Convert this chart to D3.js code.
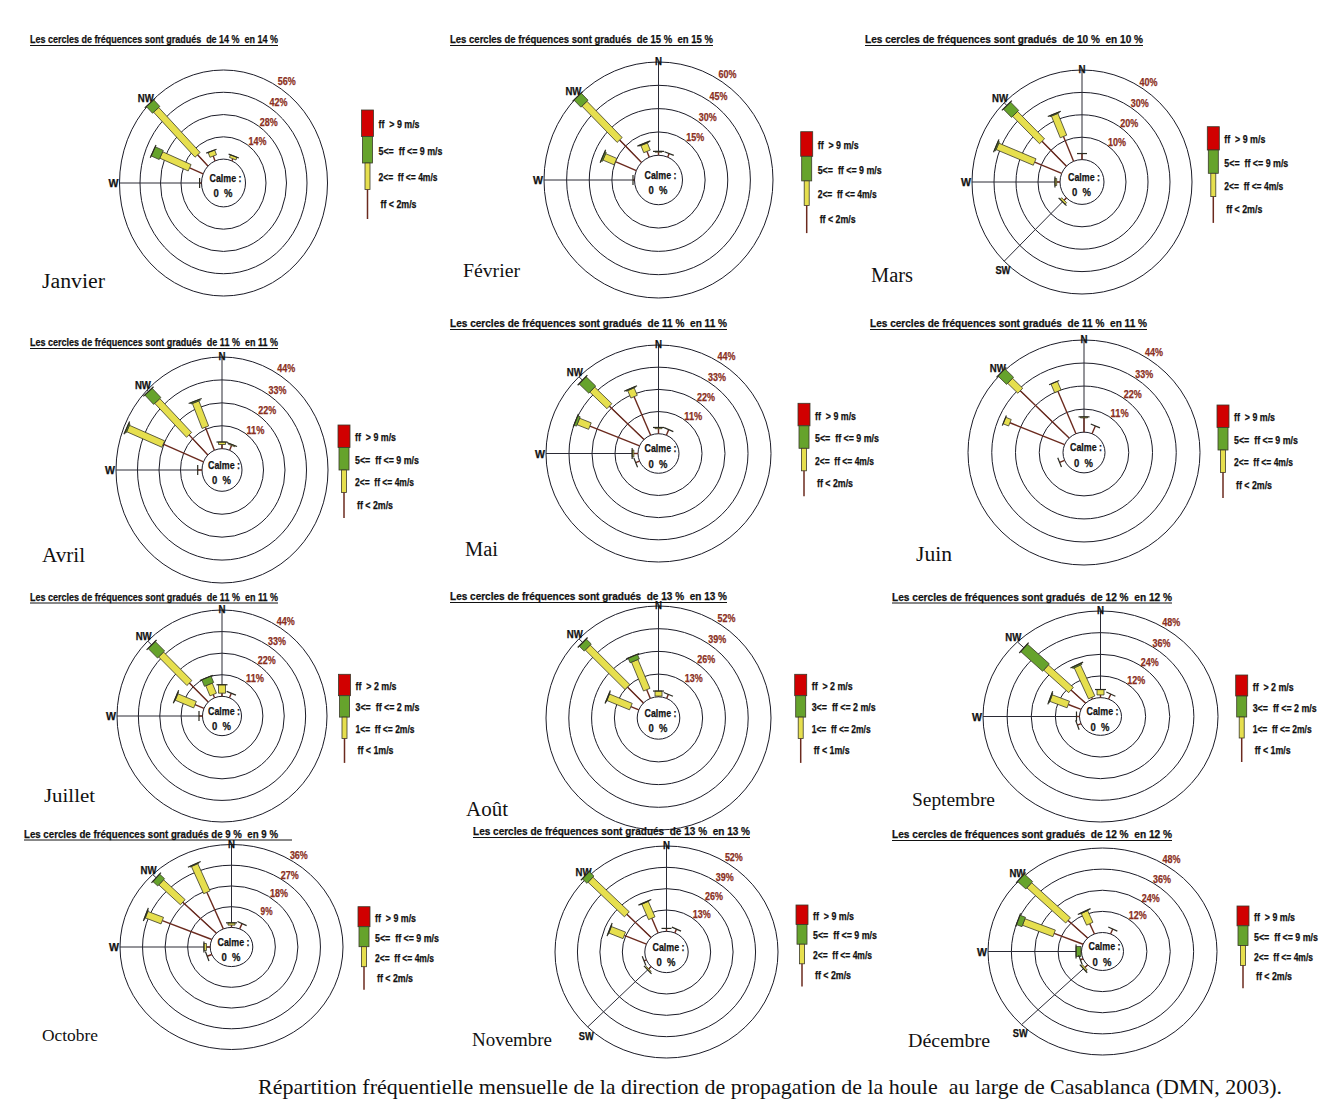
<!DOCTYPE html>
<html>
<head>
<meta charset="utf-8">
<script src="https://cdn.jsdelivr.net/npm/d3@7"></script>
<style>
  body { margin: 0; background: #fff; }
  svg { display: block; }
  text { white-space: pre; }
</style>
</head>
<body>
<svg id="chart" width="1343" height="1115"></svg>
<script>
// ---- data ----------------------------------------------------------------
const months = ["Janvier", "Février", "Mars", "Avril", "Mai", "Juin",
                "Juillet", "Août", "Septembre", "Octobre", "Novembre", "Décembre"];
const ringSteps = [14, 15, 10, 11, 11, 11, 11, 13, 12, 9, 13, 12];
const calmPct = [0, 0, 0, 0, 0, 0, 0, 0, 0, 0, 0, 0];
const directions = ["N", "NNE", "NE", "ENE", "E", "ESE", "SE", "SSE",
                    "S", "SSW", "SW", "WSW", "W", "WNW", "NW", "NNW"];
const legendMain = ["ff  > 9 m/s", "5<=  ff <= 9 m/s", "2<=  ff <= 4m/s", "ff < 2m/s"];
const legendSummer = ["ff  > 2 m/s", "3<=  ff <= 2 m/s", "1<=  ff <= 2m/s", "ff < 1m/s"];
const legendSets = [legendMain, legendMain, legendMain, legendMain, legendMain, legendMain,
                    legendSummer, legendSummer, legendSummer, legendMain, legendMain, legendMain];
const axisDirs = [
  ["W", "NW"], ["N", "W", "NW"], ["N", "W", "SW", "NW"], ["N", "W", "NW"],
  ["N", "W", "NW"], ["N", "NW"], ["N", "W", "NW"], ["N", "NW"],
  ["N", "W", "NW"], ["N", "W", "NW"], ["N", "SW", "NW"], ["W", "SW", "NW"]
];

// frequency (%) per direction: [direction, class 1 (lowest), class 2, class 3, class 4 (highest)]
const janvier = [["NW", 10, 40, 6, 0], ["WNW", 10, 21, 6, 0], ["NNW", 3.3, 3.3, 0, 0],
                 ["NNE", 1.5, 1.8, 0, 0], ["W", 1.3, 0, 0, 0]];
const fevrier = [["NW", 20.5, 33, 6.5, 0], ["WNW", 15, 8, 1, 0], ["NNW", 4, 5, 0.5, 0],
                 ["N", 2, 0.5, 0, 0], ["NNE", 2.5, 0, 0, 0], ["W", 1, 0, 0, 0]];
const mars = [["NW", 15.7, 17.3, 5.3, 0], ["NNW", 12, 10.5, 0.4, 0], ["WNW", 13.3, 18.3, 0.6, 0],
              ["N", 2.7, 0, 0, 0], ["W", 1.5, 0.8, 0, 0], ["SW", 1.5, 1, 0, 0]];
const avril = [["NW", 13.6, 23, 6.4, 0], ["NNW", 12, 13, 0.6, 0], ["WNW", 22.3, 19.5, 0.7, 0],
               ["N", 2, 1.2, 0, 0], ["NNE", 2.5, 0.5, 0, 0], ["W", 2.2, 0, 0, 0]];
const mai = [["NW", 23.4, 11.6, 6.6, 0], ["NNW", 20.7, 4, 0.4, 0], ["WNW", 25.7, 6, 1.3, 0],
             ["N", 2.5, 0.6, 0, 0], ["NNE", 3, 0, 0, 0], ["W", 2, 0.8, 0, 0], ["WSW", 2, 0, 0, 0]];
const juin = [["NW", 32, 6.7, 5.7, 0], ["NNW", 21.9, 4.5, 0, 0], ["WNW", 27.4, 2.8, 0, 0],
              ["N", 6.8, 0.5, 0, 0], ["NNE", 4, 0, 0, 0], ["WSW", 2.5, 0, 0, 0]];
const juillet = [["NW", 13.7, 20.6, 6.9, 0], ["NNW", 1.8, 5.6, 3.6, 0], ["N", 1.6, 4.3, 0, 0],
                 ["NNE", 2.5, 0, 0, 0], ["WNW", 5, 10.3, 0.3, 0], ["W", 1.8, 0, 0, 0]];
const aout = [["NW", 12.9, 32, 4.1, 0], ["NNW", 5.4, 17.9, 2.9, 0], ["N", 0.4, 2.9, 0, 0],
              ["NNE", 2.5, 0, 0, 0], ["WNW", 4.9, 14, 0.3, 0]];
const septembre = [["NW", 10.3, 17.6, 15.5, 0], ["NNW", 1, 18.6, 0.8, 0], ["N", 1.5, 3, 0, 0],
                   ["NNE", 3, 0, 0, 0], ["WNW", 6.9, 9.3, 0.4, 0], ["W", 1.5, 0, 0, 0], ["WSW", 2, 0, 0, 0]];
const octobre = [["NW", 19, 12.2, 2.8, 0], ["NNW", 17.2, 12.8, 0.3, 0], ["WNW", 21.4, 6.8, 0.3, 0],
                 ["N", 1, 1, 0, 0], ["NNE", 2.5, 0, 0, 0], ["W", 1.5, 1, 0, 0], ["WSW", 2, 0, 0, 0]];
const novembre = [["NW", 19.9, 29.8, 3.9, 0], ["NNW", 9.7, 10.2, 0.3, 0], ["WNW", 13.9, 8.9, 0.3, 0],
                  ["N", 1.8, 0, 0, 0], ["NNE", 2.5, 0, 0, 0], ["SW", 2, 0.8, 0, 0], ["WSW", 1.5, 0, 0, 0]];
const decembre = [["NW", 14.2, 28.2, 6.1, 0], ["NNW", 6.3, 7.2, 0.3, 0], ["WNW", 16.1, 16.9, 3.1, 0],
                  ["W", 0.3, 0, 2.5, 0], ["NNE", 3, 0, 0, 0], ["SW", 2, 1, 0, 0], ["WSW", 1.5, 0, 0, 0]];
const roses = [janvier, fevrier, mars, avril, mai, juin, juillet, aout, septembre, octobre, novembre, decembre];

const caption = "Répartition fréquentielle mensuelle de la direction de propagation de la houle  au large de Casablanca (DMN, 2003).";

// ---- layout of the twelve panels ----------------------------------------
const layout = [
  {cx: 223.5, cy: 183, r0: 22, rx: 104, ry: 113, tx: 30, ty: 43, tw: 248, uw: 248, mx: 42, my: 288, mw: 63, ms: 20, lx: 367.5, ly: 110, lh: 26.5},
  {cx: 658.5, cy: 180, r0: 24, rx: 114.5, ry: 118, tx: 450, ty: 43, tw: 263, uw: 263, mx: 463, my: 277, mw: 57, ms: 19, lx: 806.7, ly: 131.7, lh: 24.6},
  {cx: 1082, cy: 182, r0: 22, rx: 110, ry: 112, tx: 865, ty: 43, tw: 278, uw: 278, mx: 871, my: 282, mw: 42, ms: 20, lx: 1213.3, ly: 126.7, lh: 23.3},
  {cx: 222, cy: 470, r0: 20, rx: 106, ry: 113, tx: 30, ty: 346, tw: 248, uw: 248, mx: 42, my: 562, mw: 43, ms: 20, lx: 344, ly: 425, lh: 22.5},
  {cx: 658.5, cy: 453.5, r0: 20.5, rx: 112.5, ry: 108.5, tx: 450, ty: 327, tw: 277, uw: 277, mx: 465, my: 556, mw: 33, ms: 20, lx: 804, ly: 403.3, lh: 22.5},
  {cx: 1084, cy: 452.5, r0: 21, rx: 116, ry: 112.5, tx: 870, ty: 327, tw: 277, uw: 277, mx: 916, my: 561, mw: 36, ms: 20, lx: 1223, ly: 405, lh: 22.5},
  {cx: 222, cy: 716, r0: 19.5, rx: 105, ry: 106, tx: 30, ty: 600.5, tw: 248, uw: 248, mx: 44, my: 802, mw: 51, ms: 19, lx: 344.5, ly: 674.3, lh: 21.4},
  {cx: 658.5, cy: 718, r0: 21.3, rx: 112.5, ry: 112, tx: 450, ty: 600, tw: 277, uw: 277, mx: 466, my: 816, mw: 42, ms: 20, lx: 800.7, ly: 674.3, lh: 21.4},
  {cx: 1100.5, cy: 716.5, r0: 21, rx: 117.5, ry: 105.5, tx: 892, ty: 600.5, tw: 280, uw: 280, mx: 912, my: 806, mw: 83, ms: 19, lx: 1241.7, ly: 675, lh: 21},
  {cx: 231.5, cy: 947, r0: 21.3, rx: 111.5, ry: 102.5, tx: 24, ty: 837.5, tw: 254, uw: 268, mx: 42, my: 1041, mw: 56, ms: 17, lx: 364, ly: 906.7, lh: 20},
  {cx: 666.5, cy: 952, r0: 21.7, rx: 111.5, ry: 106, tx: 473, ty: 835, tw: 277, uw: 277, mx: 472, my: 1046, mw: 80, ms: 18, lx: 802, ly: 905, lh: 19.6},
  {cx: 1102.5, cy: 951.5, r0: 21, rx: 114.5, ry: 103.5, tx: 892, ty: 838, tw: 280, uw: 280, mx: 908, my: 1047, mw: 82, ms: 18.5, lx: 1243, ly: 906, lh: 19.8}
];

// ---- styles --------------------------------------------------------------
const NARROW = "'Liberation Sans Narrow','Arial Narrow','Liberation Sans',Arial,sans-serif";
const SERIF = "'Liberation Serif','Times New Roman',serif";
const classColors = ["#6b2a1e", "#e6df4e", "#66a32c", "#d10000"];
const classWidths = [1.4, 7, 10, 12];
const legendWidths = [1.5, 5, 10, 12];
const legendTextWidths = [41, 64, 59, 36];
const outline = "#3a3a2a";

const svg = d3.select("#chart");
svg.append("rect").attr("width", 1343).attr("height", 1115).attr("fill", "#fff");

const angle = d3.scaleLinear().domain([0, directions.length]).range([0, 2 * Math.PI]);
const dirIndex = new Map(directions.map((d, i) => [d, i]));
const lineGen = d3.line();

// narrow bold label helper: text squeezed to a fixed advance width
function narrow(sel, size, width, color = "#111") {
  sel.attr("font-family", NARROW).attr("font-weight", "bold").attr("font-size", size)
     .attr("fill", color).attr("stroke", color).attr("stroke-width", 0.25);
  if (width) sel.attr("textLength", width).attr("lengthAdjust", "spacingAndGlyphs");
  return sel;
}

layout.forEach((p, i) => {
  const step = ringSteps[i];
  const sy = p.ry / p.rx;
  const radius = d3.scaleLinear().domain([0, 4 * step]).range([p.r0, p.rx]);
  const g = svg.append("g").attr("class", "rose");

  const pt = (theta, r) => [p.cx + r * Math.sin(theta), p.cy - r * Math.cos(theta) * sy];
  const unit = theta => {
    const ux = Math.sin(theta), uy = -Math.cos(theta) * sy;
    const n = Math.hypot(ux, uy);
    return [ux / n, uy / n];
  };

  // title, underlined
  narrow(g.append("text").attr("x", p.tx).attr("y", p.ty), 11, p.tw)
    .text(`Les cercles de fréquences sont gradués ${i === 9 ? "" : " "}de ${step} %  en ${step} %`);
  g.append("line")
    .attr("x1", p.tx).attr("x2", p.tx + p.uw)
    .attr("y1", p.ty + 2.5).attr("y2", p.ty + 2.5)
    .attr("stroke", "#111").attr("stroke-width", 1);

  // frequency circles (first one is the calm circle)
  const ringVals = d3.range(0, 5).map(k => k * step);
  g.selectAll("ellipse.ring").data(ringVals).join("ellipse")
    .attr("class", "ring")
    .attr("cx", p.cx).attr("cy", p.cy)
    .attr("rx", v => radius(v)).attr("ry", v => radius(v) * sy)
    .attr("fill", "none").attr("stroke", "#1c1c28").attr("stroke-width", 1);

  // direction axes
  g.selectAll("line.axis").data(axisDirs[i]).join("line")
    .attr("class", "axis")
    .each(function (d) {
      const th = angle(dirIndex.get(d));
      const a = pt(th, radius(0)), b = pt(th, radius(4 * step));
      d3.select(this).attr("x1", a[0]).attr("y1", a[1]).attr("x2", b[0]).attr("y2", b[1]);
    })
    .attr("stroke", "#2a2a35").attr("stroke-width", 1);

  // direction labels
  const dirWidth = {N: 7, W: 10, NW: 16, SW: 15};
  g.selectAll("text.dir").data(axisDirs[i]).join("text")
    .attr("class", "dir")
    .each(function (d) {
      const th = angle(dirIndex.get(d));
      const t = d3.select(this);
      narrow(t, 10, dirWidth[d]);
      if (d === "N") {
        const q = pt(th, radius(4 * step));
        t.attr("x", q[0] - 3.5).attr("y", q[1] + 3);
      } else if (d === "W") {
        const q = pt(th, radius(4 * step));
        t.attr("x", q[0] - 11).attr("y", q[1] + 4);
      } else if (d === "NW") {
        const q = pt(th, radius(4 * step) + 3);
        t.attr("x", q[0] - 10).attr("y", q[1] + 1);
      } else {
        const q = pt(th, radius(4 * step) + 4);
        t.attr("x", q[0] - 6).attr("y", q[1] + 10);
      }
    })
    .text(d => d);

  // ring value labels
  g.selectAll("text.ringlab").data(ringVals.slice(1)).join("text")
    .attr("class", "ringlab")
    .each(function (v, k) {
      const th = (44 - 2.5 * (k + 1)) * Math.PI / 180;
      const q = pt(th, radius(v) + 9);
      const label = `${v}%`;
      const w = label.length * 6;
      narrow(d3.select(this), 11, w, "#8a2f22")
        .attr("x", q[0] - w / 2).attr("y", q[1] + 4)
        .text(label);
    });

  // bars: one stacked spoke per direction
  roses[i].forEach(row => {
    const th = angle(dirIndex.get(row[0]));
    const [ux, uy] = unit(th);
    const px = -uy, py = ux;
    let acc = 0;
    let lastW = 6;
    row.slice(1).forEach((val, c) => {
      if (val <= 0) return;
      const a = pt(th, radius(acc)), b = pt(th, radius(acc + val));
      acc += val;
      if (c === 0) {
        g.append("line")
          .attr("x1", a[0]).attr("y1", a[1]).attr("x2", b[0]).attr("y2", b[1])
          .attr("stroke", classColors[0]).attr("stroke-width", classWidths[0]);
        lastW = 6;
      } else {
        const h = classWidths[c] / 2;
        const poly = [
          [a[0] + px * h, a[1] + py * h], [b[0] + px * h, b[1] + py * h],
          [b[0] - px * h, b[1] - py * h], [a[0] - px * h, a[1] - py * h]
        ];
        g.append("path")
          .attr("d", lineGen(poly) + "Z")
          .attr("fill", classColors[c]).attr("stroke", outline).attr("stroke-width", 0.8);
        lastW = classWidths[c];
      }
    });
    // end cap across the tip of the spoke
    const e = pt(th, radius(acc));
    const cw = lastW / 2 + 2;
    g.append("line")
      .attr("x1", e[0] + px * cw).attr("y1", e[1] + py * cw)
      .attr("x2", e[0] - px * cw).attr("y2", e[1] - py * cw)
      .attr("stroke", "#2a2a20").attr("stroke-width", 1.2);
  });

  // calm label
  narrow(g.append("text").attr("x", p.cx - 14).attr("y", p.cy - 1.5), 11, 32).text("Calme :");
  narrow(g.append("text").attr("x", p.cx - 10).attr("y", p.cy + 14), 11, 19).text(`${calmPct[i]}  %`);

  // speed legend: top-most class first
  const legend = g.append("g").attr("class", "legend");
  const labels = legendSets[i];
  [3, 2, 1, 0].forEach((c, k) => {
    const y0 = p.ly + k * p.lh;
    const w = legendWidths[c];
    if (c === 0) {
      legend.append("line")
        .attr("x1", p.lx).attr("x2", p.lx)
        .attr("y1", y0).attr("y2", y0 + p.lh + 3)
        .attr("stroke", classColors[0]).attr("stroke-width", w);
    } else {
      legend.append("rect")
        .attr("x", p.lx - w / 2).attr("y", y0)
        .attr("width", w).attr("height", p.lh)
        .attr("fill", classColors[c]).attr("stroke", outline).attr("stroke-width", 0.8);
    }
    narrow(legend.append("text"), 11.5, legendTextWidths[k])
      .attr("x", p.lx + (c === 0 ? 13 : 11)).attr("y", y0 + p.lh / 2 + 5)
      .text(labels[k]);
  });

  // month name
  g.append("text")
    .attr("x", p.mx).attr("y", p.my)
    .attr("textLength", p.mw).attr("lengthAdjust", "spacingAndGlyphs")
    .attr("font-family", SERIF).attr("font-size", p.ms)
    .attr("fill", "#111")
    .text(months[i]);
});

svg.append("text")
  .attr("x", 258).attr("y", 1094)
  .attr("textLength", 1024).attr("lengthAdjust", "spacingAndGlyphs")
  .attr("font-family", SERIF).attr("font-size", 21.5)
  .attr("fill", "#111")
  .text(caption);
</script>
</body>
</html>
